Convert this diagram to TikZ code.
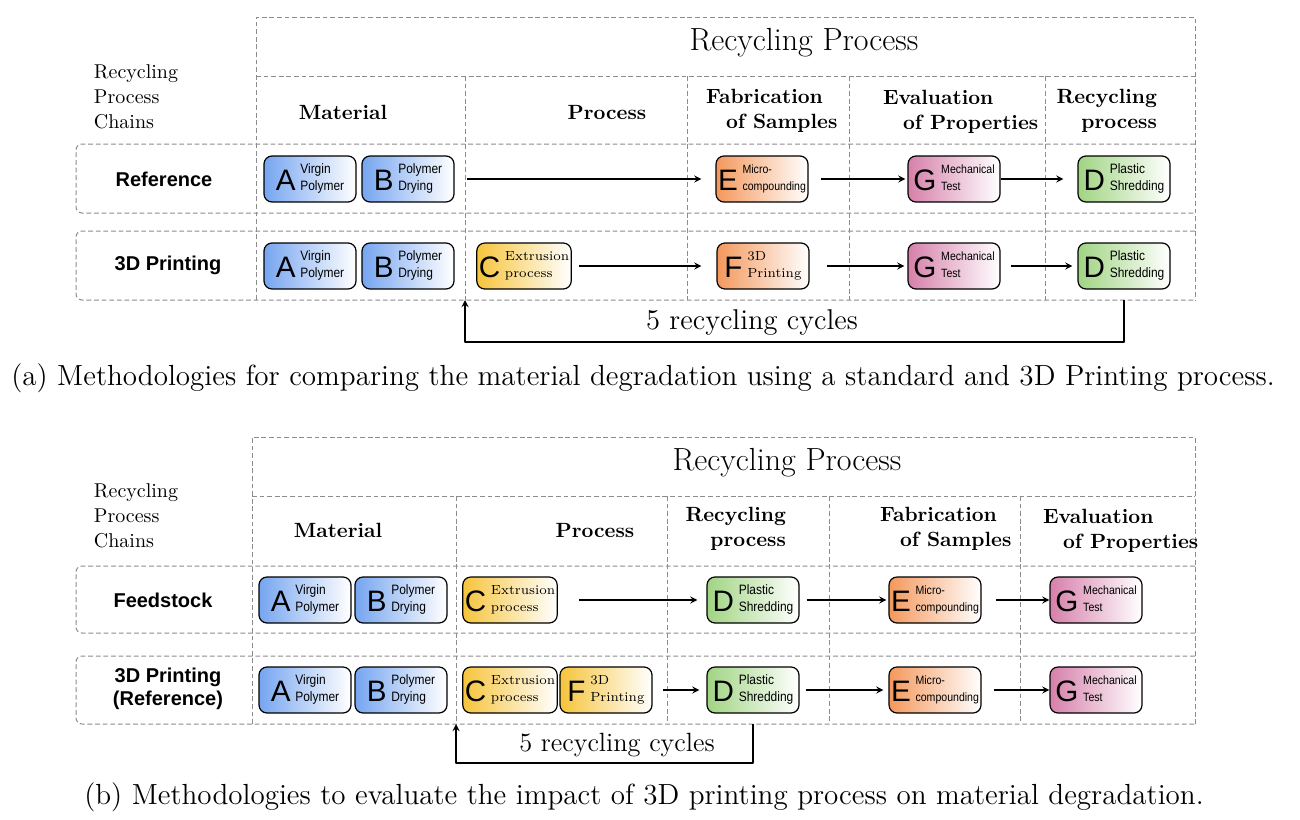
\documentclass[tikz,border=0pt]{standalone}
\usepackage{fontspec}
\newfontfamily\rowfont{Liberation Sans}
\newfontfamily\boxfont[FakeStretch=0.88]{Liberation Sans}
\definecolor{matblue}{RGB}{118,165,240}
\definecolor{procyellow}{RGB}{246,196,60}
\definecolor{faborange}{RGB}{244,152,92}
\definecolor{evalpink}{RGB}{214,128,170}
\definecolor{recgreen}{RGB}{160,212,130}
\definecolor{gridgray}{RGB}{140,140,140}
% big letter + two small sans lines
\newcommand{\stagetext}[4][6.8]{{\rowfont\fontsize{14.8}{14.8}\selectfont #2}\hspace{2.4pt}{\boxfont\fontsize{#1}{8.5}\selectfont\begin{tabular}[b]{@{}l@{}}#3\\#4\end{tabular}}}
% big letter + two small serif lines
\newcommand{\stageserif}[3]{{\rowfont\fontsize{14.8}{14.8}\selectfont #1}\hspace{2.4pt}{\rmfamily\fontsize{6.6}{8.5}\selectfont\begin{tabular}[b]{@{}l@{}}#2\\#3\end{tabular}}}
\begin{document}
\begin{tikzpicture}[x=0.5pt, y=-0.5pt, line join=round, >=stealth,
    grid/.style={draw=gridgray, dash pattern=on 2.4pt off 1.4pt, line width=0.5pt},
    stage/.style={draw, rounded corners=4pt, minimum width=46pt, minimum height=23pt, inner sep=1pt, line width=0.6pt, right color=white},
    matstep/.style={stage, left color=matblue},
    procstep/.style={stage, left color=procyellow},
    fabstep/.style={stage, left color=faborange},
    evalstep/.style={stage, left color=evalpink},
    recstep/.style={stage, left color=recgreen},
    flow/.style={->, line width=0.6pt},
    head/.style={font=\fontsize{10.3}{12.5}\selectfont\bfseries},
    chain/.style={font=\rowfont\fontsize{10}{11.5}\selectfont\bfseries, align=center},
    bigtitle/.style={font=\fontsize{16}{18}\selectfont},
    cycles/.style={font=\fontsize{14.3}{16}\selectfont},
    caption/.style={font=\fontsize{14.55}{16}\selectfont}]
\useasboundingbox (0,0) rectangle (1300,819);

% ---------------- (a) ----------------
\draw[grid] (256,300) -- (256,17) -- (1195,17) -- (1195,300);
\draw[grid] (256,76) -- (1195,76);
\foreach \x in {465,687,849,1045} \draw[grid] (\x,76) -- (\x,300);
\draw[grid, rounded corners=3pt] (1195,144) -- (76,144) -- (76,213) -- (1195,213);
\draw[grid, rounded corners=3pt] (1195,231) -- (76,231) -- (76,300) -- (1195,300);

\node[bigtitle] (titlea) at (804,43) {Recycling Process};
\node[align=left, font=\fontsize{10}{12.5}\selectfont] (chainsa) at (136,97) {Recycling\\Process\\Chains};
\node[head] (mata) at (343,112) {Material};
\node[head] (proca) at (607,112) {Process};
\node[head, align=left, anchor=west] (faba) at (699,110.5) {Fabrication\\\hspace*{10pt}of Samples};
\node[head, align=left, anchor=west] (evala) at (876,112) {Evaluation\\\hspace*{10pt}of Properties};
\node[head, align=right, anchor=east] (reca) at (1164,110.5) {Recycling\\process};

\node[chain] (refrow) at (164,179) {Reference};
\node[chain] (printrow) at (168,265) {3D Printing};

\node[matstep] (A1) at (310,179) {\stagetext{A}{Virgin}{Polymer}};
\node[matstep] (B1) at (408,179) {\stagetext{B}{Polymer}{Drying}};
\node[fabstep] (E1) at (762,179) {\stagetext[6]{E}{Micro-}{compounding}};
\node[evalstep] (G1) at (954,179) {\stagetext[6]{G}{Mechanical}{Test}};
\node[recstep] (D1) at (1124,179) {\stagetext{D}{Plastic}{Shredding}};

\node[matstep] (A2) at (310,266) {\stagetext{A}{Virgin}{Polymer}};
\node[matstep] (B2) at (408,266) {\stagetext{B}{Polymer}{Drying}};
\node[procstep] (C2) at (524,266) {\stageserif{C}{Extrusion}{process}};
\node[fabstep] (F2) at (763,266) {\stageserif{F}{3D}{Printing}};
\node[evalstep] (G2) at (954,266) {\stagetext[6]{G}{Mechanical}{Test}};
\node[recstep] (D2) at (1124,266) {\stagetext{D}{Plastic}{Shredding}};

\draw[flow, shorten <=6pt, shorten >=7pt] (B1) -- (E1);
\draw[flow, shorten <=6pt, shorten >=1pt] (E1) -- (G1);
\draw[flow, shorten >=7pt] (G1) -- (D1);
\draw[flow, shorten <=3.5pt, shorten >=7.5pt] (C2) -- (F2);
\draw[flow, shorten <=8.5pt, shorten >=1.5pt] (F2) -- (G2);
\draw[flow, shorten <=5pt, shorten >=2.5pt] (G2) -- (D2);

\coordinate (loopa) at (465,300);
\draw[flow] (loopa -| D2) -- ++(0,42) -| (loopa);
\node[cycles] (cyclesa) at (752,323) {5 recycling cycles};

\node[caption] (capa) at (643,378) {(a) Methodologies for comparing the material degradation using a standard and 3D Printing process.};

% ---------------- (b) ----------------
\draw[grid] (252,724) -- (252,437) -- (1195,437) -- (1195,724);
\draw[grid] (252,496) -- (1195,496);
\foreach \x in {456,667,829,1020} \draw[grid] (\x,496) -- (\x,724);
\draw[grid, rounded corners=3pt] (1195,566) -- (76,566) -- (76,633) -- (1195,633);
\draw[grid, rounded corners=3pt] (1195,656) -- (76,656) -- (76,724) -- (1195,724);

\node[bigtitle] (titleb) at (787,463) {Recycling Process};
\node[align=left, font=\fontsize{10}{12.5}\selectfont] (chainsb) at (136,516) {Recycling\\Process\\Chains};
\node[head] (matb) at (338,530) {Material};
\node[head] (procb) at (595,530) {Process};
\node[head, align=right, anchor=east] (recb) at (793,529) {Recycling\\process};
\node[head, align=left, anchor=west] (fabb) at (873,529) {Fabrication\\\hspace*{10pt}of Samples};
\node[head, align=left, anchor=west] (evalb) at (1036,530.5) {Evaluation\\\hspace*{10pt}of Properties};

\node[chain] (feedrow) at (163,600) {Feedstock};
\node[chain] (printrefrow) at (168,689) {3D Printing\\(Reference)};

\node[matstep] (A3) at (305,600) {\stagetext{A}{Virgin}{Polymer}};
\node[matstep] (B3) at (401,600) {\stagetext{B}{Polymer}{Drying}};
\node[procstep] (C3) at (510,600) {\stageserif{C}{Extrusion}{process}};
\node[recstep] (D3) at (753,600) {\stagetext{D}{Plastic}{Shredding}};
\node[fabstep] (E3) at (935,600) {\stagetext[6]{E}{Micro-}{compounding}};
\node[evalstep] (G3) at (1096,600) {\stagetext[6]{G}{Mechanical}{Test}};

\node[matstep] (A4) at (305,690) {\stagetext{A}{Virgin}{Polymer}};
\node[matstep] (B4) at (401,690) {\stagetext{B}{Polymer}{Drying}};
\node[procstep] (C4) at (510,690) {\stageserif{C}{Extrusion}{process}};
\node[procstep] (F4) at (606,690) {\stageserif{F}{3D}{Printing}};
\node[recstep] (D4) at (753,690) {\stagetext{D}{Plastic}{Shredding}};
\node[fabstep] (E4) at (935,690) {\stagetext[6]{E}{Micro-}{compounding}};
\node[evalstep] (G4) at (1096,690) {\stagetext[6]{G}{Mechanical}{Test}};

\draw[flow, shorten <=10.5pt, shorten >=4.5pt] (C3) -- (D3);
\draw[flow, shorten <=3.5pt, shorten >=1pt] (D3) -- (E3);
\draw[flow, shorten <=7pt] (E3) -- (G3);
\draw[flow, shorten <=5pt, shorten >=3.5pt] (F4) -- (D4);
\draw[flow, shorten <=3pt, shorten >=2.5pt] (D4) -- (E4);
\draw[flow, shorten <=6pt] (E4) -- (G4);

\coordinate (loopb) at (456,724);
\draw[flow] (loopb -| D4) -- ++(0,39) -| (loopb);
\node[cycles, font=\fontsize{13.2}{15}\selectfont] (cyclesb) at (617,745) {5 recycling cycles};

\node[caption] (capb) at (644,797) {(b) Methodologies to evaluate the impact of 3D printing process on material degradation.};
\end{tikzpicture}
\end{document}
